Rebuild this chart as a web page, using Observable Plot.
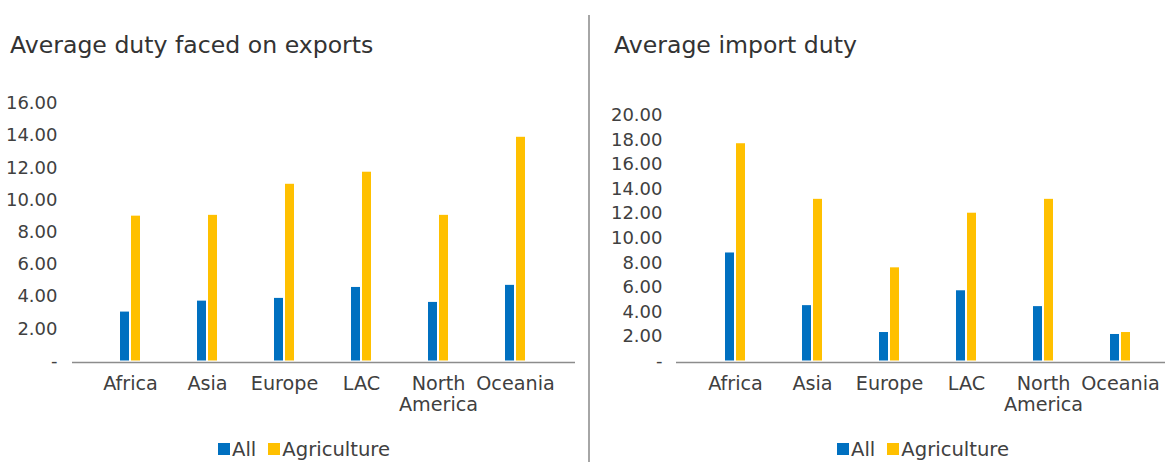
<!DOCTYPE html>
<html><head><meta charset="utf-8">
<script src="https://cdn.jsdelivr.net/npm/d3@7"></script>
<script src="https://cdn.jsdelivr.net/npm/@observablehq/plot@0.6"></script>
<style>
body{margin:0;background:#fff;font-family:"DejaVu Sans",sans-serif;color:#404040}
#wrap{position:relative;width:1166px;height:462px;overflow:hidden;background:#fff}
.title{position:absolute;font-size:23.6px;line-height:23.6px;color:#333;white-space:nowrap}
.legend{position:absolute;font-size:19.6px;line-height:19.6px;display:flex;align-items:center;white-space:nowrap;color:#404040}
.item{display:flex;align-items:center;margin-right:12px}
.sw{display:inline-block;width:12px;height:12px;margin-right:2px}
.divider{position:absolute;left:588px;top:15px;width:2px;height:447px;background:#a6a6a6}
.chart{position:absolute;top:90px}
</style></head><body>
<div id="wrap">
  <div class="title" style="left:10px;top:33.5px">Average duty faced on exports</div>
  <div class="title" style="left:614px;top:33.5px">Average import duty</div>
  <div class="divider"></div>
  <div class="chart" id="left" style="left:0px"></div>
  <div class="chart" id="right" style="left:590px"></div>
  <div class="legend" id="legLeft" style="left:218px;top:439.5px"></div>
  <div class="legend" id="legRight" style="left:837px;top:439.5px"></div>
</div>
<script>
const regions = ["Africa", "Asia", "Europe", "LAC", "North America", "Oceania"];
const series = ["All", "Agriculture"];
const colors = ["#0070C0", "#FFC000"];

const exportAll  = [3.04, 3.72, 3.89, 4.57, 3.64, 4.70];
const exportAgri = [9.00, 9.05, 10.98, 11.73, 9.05, 13.90];

const importAll  = [8.80, 4.51, 2.32, 5.72, 4.43, 2.16];
const importAgri = [17.70, 13.17, 7.59, 12.04, 13.17, 2.32];

const exportTicks = [0, 2, 4, 6, 8, 10, 12, 14, 16];
const importTicks = [0, 2, 4, 6, 8, 10, 12, 14, 16, 18, 20];

function tidy(all, agri) {
  const rows = [];
  regions.forEach((r, i) => {
    rows.push({region: r, series: series[0], value: all[i]});
    rows.push({region: r, series: series[1], value: agri[i]});
  });
  return rows;
}

function chart(rows, ticks, o) {
  return Plot.plot({
    width: o.width, height: 330,
    marginLeft: o.marginLeft, marginRight: o.marginRight, marginTop: o.marginTop, marginBottom: 59.5,
    style: {fontFamily: '"DejaVu Sans", sans-serif', color: "#404040", background: "white", overflow: "visible"},
    x: {type: "band", domain: regions, paddingInner: 0.742, paddingOuter: 0.5, insetLeft: o.insetLeft, insetRight: o.insetRight, label: null},
    y: {domain: [0, ticks[ticks.length - 1]], label: null},
    color: {domain: series, range: colors},
    marks: [
      Plot.barY(rows.filter(d => d.series === series[0]), {x: "region", y: "value", fill: "series", insetRight: 11}),
      Plot.barY(rows.filter(d => d.series === series[1]), {x: "region", y: "value", fill: "series", insetLeft: 11}),
      Plot.ruleY([0], {stroke: "#8c8c8c", strokeWidth: 1.6, dy: 1.5}),
      Plot.axisY({ticks: ticks, tickSize: 0, tickPadding: o.yPad, fontSize: 18, tickFormat: d => d === 0 ? "-" : d.toFixed(2), label: null}),
      Plot.axisX({tickSize: 0, tickPadding: 13, fontSize: 19.2, lineHeight: 1.14, tickFormat: d => d.replace(" ", "\n"), label: null})
    ]
  });
}

document.getElementById("left").append(chart(tidy(exportAll, exportAgri), exportTicks,
  {width: 585, marginLeft: 72, marginRight: 10, marginTop: 13, insetLeft: 8.6, insetRight: 10, yPad: 15}));
document.getElementById("right").append(chart(tidy(importAll, importAgri), importTicks,
  {width: 576, marginLeft: 86, marginRight: 1, marginTop: 25, insetLeft: 9.4, insetRight: -4.1, yPad: 14}));

function legend(id) {
  const el = document.getElementById(id);
  series.forEach((s, i) => {
    const item = document.createElement("div");
    item.className = "item";
    const sw = document.createElement("span");
    sw.className = "sw";
    sw.style.background = colors[i];
    item.append(sw, document.createTextNode(s));
    el.append(item);
  });
}
legend("legLeft");
legend("legRight");
</script>
</body></html>
